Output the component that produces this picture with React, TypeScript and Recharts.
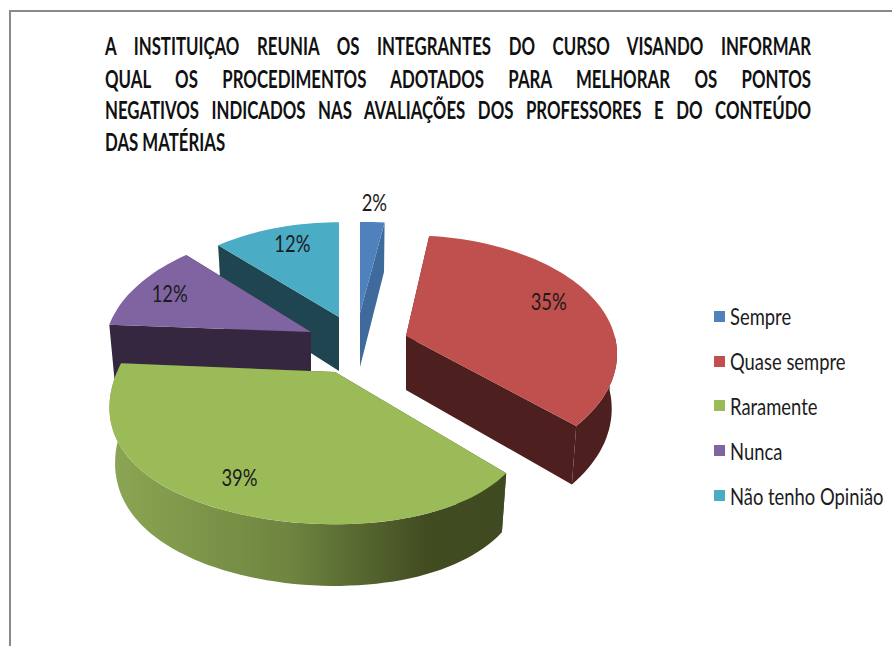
import { PieChart, Pie, Legend } from "recharts";

const NAMES = ["Sempre", "Quase sempre", "Raramente", "Nunca", "Não tenho Opinião"];
const VALUES = [2, 35, 39, 12, 12];
const TOP_COLORS = ["#4f81bd", "#c0504d", "#9bbb59", "#8064a2", "#4bacc6"];
const WALL_COLORS = ["#3f6a9c", "#4d1f1e", "url(#greenWall)", "#35273f", "#1f4550"];
const TITLE_LINES = [
  "A INSTITUIÇAO REUNIA OS INTEGRANTES DO CURSO VISANDO INFORMAR",
  "QUAL OS PROCEDIMENTOS ADOTADOS PARA MELHORAR OS PONTOS",
  "NEGATIVOS INDICADOS NAS AVALIAÇÕES DOS PROFESSORES E DO CONTEÚDO",
  "DAS MATÉRIAS",
];

// painter's order, far slices first
const DRAW_ORDER = [4, 3, 0, 1, 2];
// explosion of each slice, px from the pie centre
const SHIFT = [[10, -27], [56, -4], [-15, 32], [-39, -8], [-11, -23]];
// label distance along the mid angle, as share of radius, then a small nudge
const LABEL_R = [1.2, 0.7, 0.83, 0.78, 0.75];
const LABEL_NUDGE = [[0, -7], [9, -9], [-10, -9], [-5, -2], [2, -5]];
// exploded slices sit nearer/farther from the camera, so each gets its own lens
const SCALE_X = [1.05, 0.99, 0.953, 0.93, 0.9];
const SCALE_Y = [1, 1, 1.19, 1, 0.94];
const PERSP_Y = [0.285, 0.16, 0.086, 0.148, 0.16];
const PERSP_X = [0.15, 0.15, 0.25, 0.15, 0.15];
const SKEW_X = [0.02, 0.02, 0.06, 0.02, 0.02];

const CX = 350;
const CY = 340;
const RADIUS = 215;
const SQUASH = 0.544;
const DEPTH = 54;

const FONT = "Lato, 'Noto Sans', sans-serif";

const tableData = NAMES.map((name, i) => ({ name, value: VALUES[i], fill: TOP_COLORS[i] }));

// clock = degrees clockwise from 12 o'clock
function project(clock: number, r: number, R: number, i: number): [number, number] {
  const rad = (clock * Math.PI) / 180;
  const X = r * Math.sin(rad);
  const Y = r * Math.cos(rad);
  const wx = 1 + PERSP_X[i] * Y + SKEW_X[i] * X;
  const wy = 1 + PERSP_Y[i] * Y;
  return [(R * SCALE_X[i] * X) / wx, (-R * SQUASH * SCALE_Y[i] * Y) / wy];
}

const lower = (p: [number, number]): [number, number] => [p[0] * 0.975, p[1] * 1.05 + DEPTH];

function arc(from: number, to: number, R: number, idx: number): [number, number][] {
  const n = Math.max(2, Math.ceil(Math.abs(to - from) / 2));
  const pts: [number, number][] = [];
  for (let i = 0; i <= n; i++) pts.push(project(from + ((to - from) * i) / n, 1, R, idx));
  return pts;
}

const toPath = (pts: [number, number][], ox: number, oy: number) =>
  "M" + pts.map((p) => `${(p[0] + ox).toFixed(1)},${(p[1] + oy).toFixed(1)}`).join("L") + "Z";

function Slice(props: any) {
  const { cx, cy, startAngle, endAngle, outerRadius, name } = props;
  const i = NAMES.indexOf(name);
  const ox = cx + SHIFT[i][0];
  const oy = cy + SHIFT[i][1];
  const from = 90 - startAngle;
  const to = 90 - endAngle;
  const rim = arc(from, to, outerRadius, i);
  const apex: [number, number] = [0, 0];
  const first = rim[0];
  const last = rim[rim.length - 1];
  const wall = WALL_COLORS[i];
  // only the near half of the rim can be seen
  const nearFrom = Math.max(from, 90);
  const nearTo = Math.min(to, 270);
  const nearRim = nearTo > nearFrom ? arc(nearFrom, nearTo, outerRadius, i) : [];
  const faceFill = wall.startsWith("url") ? "#414c21" : wall;
  return (
    <g>
      <path d={toPath([apex, first, lower(first), lower(apex)], ox, oy)} fill={faceFill} />
      <path d={toPath([apex, last, lower(last), lower(apex)], ox, oy)} fill={faceFill} />
      {nearRim.length > 0 && (
        <path d={toPath([...nearRim, ...nearRim.slice().reverse().map(lower)], ox, oy)} fill={wall} />
      )}
      <path d={toPath([apex, ...rim], ox, oy)} fill={TOP_COLORS[i]} />
    </g>
  );
}

function renderLabel(props: any) {
  const { midAngle, outerRadius, cx, cy, name, value } = props;
  const i = NAMES.indexOf(name);
  const p = project(90 - midAngle, LABEL_R[i], outerRadius, i);
  const x = cx + SHIFT[i][0] + p[0] + LABEL_NUDGE[i][0];
  const y = cy + SHIFT[i][1] + p[1] + LABEL_NUDGE[i][1];
  return (
    <text
      transform={`translate(${x},${y}) scale(0.92,1.15)`}
      textAnchor="middle"
      dominantBaseline="central"
      fontFamily={FONT}
      fontSize={20}
      fill="#1c1c1c"
    >
      {value}%
    </text>
  );
}

function LegendBox() {
  return (
    <div>
      {NAMES.map((name, i) => (
        <div key={name} style={{ display: "flex", alignItems: "center", height: 44.8 }}>
          <span style={{ width: 11, height: 11, background: TOP_COLORS[i], marginRight: 5, flex: "none" }} />
          <span
            style={{
              fontFamily: FONT,
              fontSize: 20,
              color: "#1c1c1c",
              whiteSpace: "nowrap",
              display: "inline-block",
              transform: "scale(0.92,1.12)",
              transformOrigin: "left center",
            }}
          >
            {name}
          </span>
        </div>
      ))}
    </div>
  );
}

const TITLE_SX = 0.84;
const TITLE_SY = 1.2;

export default function App() {
  return (
    <div style={{ position: "absolute", left: 0, top: 0, width: 892, height: 646, overflow: "hidden", background: "#fff" }}>
      <div style={{ position: "absolute", left: 9, top: 10, width: 883, height: 636, borderLeft: "2px solid #8a8a8a", borderTop: "2px solid #8a8a8a" }} />
      <div
        style={{
          position: "absolute",
          left: 105,
          top: 30,
          width: 706 / TITLE_SX,
          fontFamily: FONT,
          fontWeight: 700,
          fontSize: 20,
          color: "#111",
          transform: `scale(${TITLE_SX},${TITLE_SY})`,
          transformOrigin: "left top",
        }}
      >
        {TITLE_LINES.map((line, i) => (
          <div
            key={i}
            style={{
              height: 32 / TITLE_SY,
              lineHeight: `${32 / TITLE_SY}px`,
              whiteSpace: i < 3 ? "normal" : "nowrap",
              textAlign: "justify",
              textAlignLast: i < 3 ? "justify" : "left",
            }}
          >
            {line}
          </div>
        ))}
      </div>
      <div style={{ position: "absolute", left: 0, top: 0 }}>
        <PieChart width={892} height={646} margin={{ top: 0, right: 0, bottom: 0, left: 0 }}>
          <defs>
            <linearGradient id="greenWall" x1="0" y1="0" x2="1" y2="0">
              <stop offset="0" stopColor="#8ba653" />
              <stop offset="0.45" stopColor="#6f8540" />
              <stop offset="0.8" stopColor="#414c21" />
              <stop offset="1" stopColor="#3f4a22" />
            </linearGradient>
          </defs>
          {DRAW_ORDER.map((idx, layer) => (
            <Pie
              key={idx}
              data={tableData}
              dataKey="value"
              nameKey="name"
              cx={CX}
              cy={CY}
              outerRadius={RADIUS}
              startAngle={90}
              endAngle={-270}
              stroke="none"
              isAnimationActive={false}
              legendType="none"
              label={layer === DRAW_ORDER.length - 1 ? renderLabel : false}
              labelLine={false}
              shape={(p: any) => (p.name === NAMES[idx] ? <Slice {...p} /> : <g />)}
            />
          ))}
          <Legend
            layout="vertical"
            content={<LegendBox />}
            wrapperStyle={{ left: 714, top: 294, width: 178, bottom: "auto" }}
          />
        </PieChart>
      </div>
    </div>
  );
}
